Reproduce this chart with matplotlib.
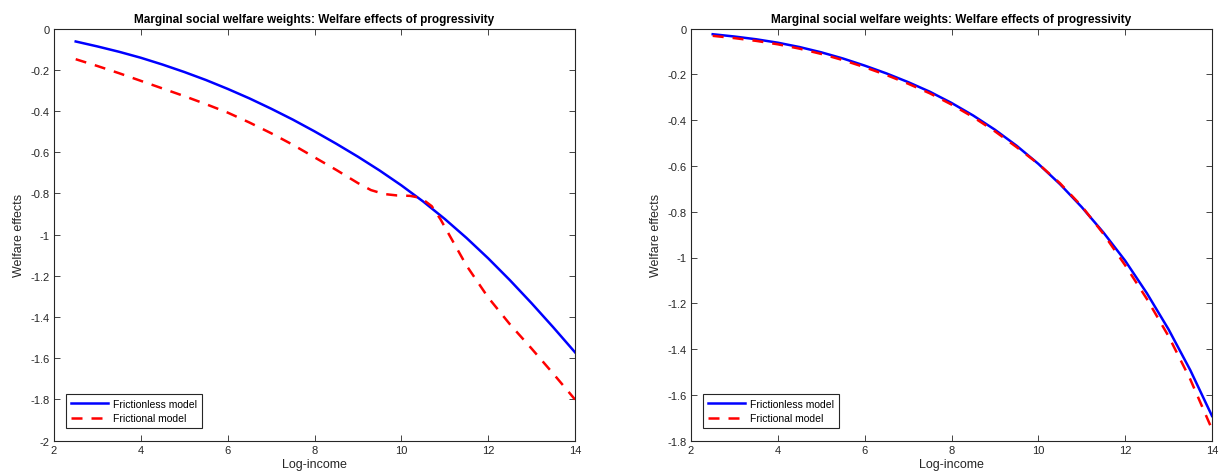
import matplotlib
matplotlib.use('Agg')
import matplotlib.pyplot as plt

plt.rcParams['font.family'] = ['Liberation Sans', 'DejaVu Sans']

# Log-income grid
log_income = [2.5, 3, 3.5, 4, 4.5, 5, 5.5, 6, 6.5, 7, 7.5, 8, 8.5, 9, 9.5,
              10, 10.5, 11, 11.5, 12, 12.5, 13, 13.5, 14]

# Left panel
left_frictionless = [-0.063, -0.087, -0.113, -0.142, -0.175, -0.211, -0.250, -0.293,
                     -0.339, -0.389, -0.442, -0.499, -0.559, -0.622, -0.689, -0.761,
                     -0.839, -0.924, -1.016, -1.115, -1.221, -1.333, -1.450, -1.571]
left_fric_x = [2.5, 3, 3.5, 4, 4.5, 5, 5.5, 6, 6.5, 7, 7.5, 8, 8.5, 9, 9.3, 9.6,
               9.9, 10.2, 10.45, 10.7, 10.9, 11.1, 11.5, 12, 12.5, 13, 13.5, 14]
left_frictional = [-0.149, -0.182, -0.217, -0.254, -0.291, -0.328, -0.367, -0.408,
                   -0.456, -0.508, -0.564, -0.625, -0.686, -0.750, -0.784, -0.803,
                   -0.810, -0.812, -0.822, -0.862, -0.925, -1.000, -1.150, -1.305,
                   -1.435, -1.553, -1.675, -1.800]

# Right panel
right_frictionless = [-0.025, -0.035, -0.047, -0.062, -0.081, -0.104, -0.131, -0.162,
                      -0.196, -0.234, -0.276, -0.325, -0.380, -0.442, -0.512, -0.591,
                      -0.680, -0.780, -0.891, -1.014, -1.156, -1.314, -1.492, -1.692]
right_frictional = [-0.032, -0.042, -0.054, -0.069, -0.088, -0.111, -0.138, -0.169,
                    -0.203, -0.241, -0.283, -0.332, -0.387, -0.449, -0.518, -0.591,
                    -0.676, -0.776, -0.897, -1.034, -1.181, -1.344, -1.532, -1.750]

xticks = [2, 4, 6, 8, 10, 12, 14]
left_yticks = [0, -0.2, -0.4, -0.6, -0.8, -1, -1.2, -1.4, -1.6, -1.8, -2]
right_yticks = [0, -0.2, -0.4, -0.6, -0.8, -1, -1.2, -1.4, -1.6, -1.8]

title = 'Marginal social welfare weights: Welfare effects of progressivity'
dark = '#262626'

fig = plt.figure(figsize=(12.25, 4.77), dpi=100)
ax1 = fig.add_axes([54 / 1225, 35.3 / 477, 521 / 1225, 412.2 / 477])
ax2 = fig.add_axes([691 / 1225, 35.3 / 477, 521 / 1225, 412.2 / 477])

panels = [
    (ax1, log_income, left_frictionless, left_fric_x, left_frictional, -2, left_yticks),
    (ax2, log_income, right_frictionless, log_income, right_frictional, -1.8, right_yticks),
]

for ax, x1, y1, x2, y2, ymin, yticks in panels:
    ax.plot(x1, y1, color='#0000ff', lw=1.8, label='Frictionless model')
    ax.plot(x2, y2, color='#ff0000', lw=1.8, dashes=(4.4, 3.6), label='Frictional model')
    ax.set_xlim(2, 14)
    ax.set_ylim(ymin, 0)
    ax.set_xticks(xticks)
    ax.set_xticklabels([str(t) for t in xticks])
    ax.set_yticks(yticks)
    ax.set_yticklabels(['0' if t == 0 else ('%g' % t) for t in yticks])
    ax.tick_params(direction='in', length=4, width=0.6, top=True, right=True,
                   labelsize=8, colors=dark, pad=3)
    for s in ax.spines.values():
        s.set_linewidth(0.8)
        s.set_color(dark)
    ax.set_title(title, fontsize=8.5, fontweight='bold', pad=5, color='black')
    ax.set_xlabel('Log-income', fontsize=9, color=dark, labelpad=2)
    ax.set_ylabel('Welfare effects', fontsize=9, color=dark, labelpad=4)
    leg = ax.legend(loc='lower left', bbox_to_anchor=(0.023, 0.031), borderaxespad=0,
                    fontsize=7.5, fancybox=False, framealpha=1, edgecolor=dark,
                    handlelength=3.6, handletextpad=0.45, borderpad=0.45,
                    labelspacing=0.4)
    leg.get_frame().set_linewidth(0.8)

fig.savefig('out.png', dpi=100)
